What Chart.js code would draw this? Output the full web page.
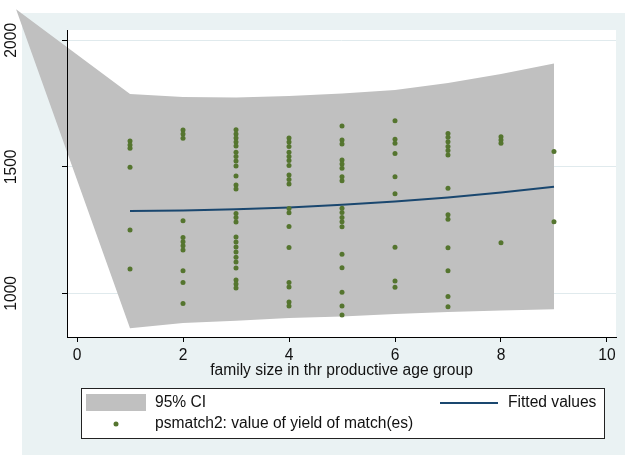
<!DOCTYPE html>
<html lang="en">
<head>
<meta charset="UTF-8">
<title>Yield of matches by family size</title>
<script src="https://cdn.jsdelivr.net/npm/chart.js@4.4.1/dist/chart.umd.min.js"></script>
<style>
  html, body { margin: 0; padding: 0; background: #ffffff; }
  canvas { display: block; }
</style>
</head>
<body>
<canvas id="fitChart" width="625" height="455"></canvas>
<script>
// matched yield values, one list per family size (members of productive age)
const familySizes = [1, 2, 3, 4, 5, 6, 7, 8, 9];
const yieldBySize = [
  [1602, 1586, 1573, 1498, 1250, 1096],
  [1645, 1630, 1613, 1287, 1221, 1204, 1188, 1171, 1089, 1043, 960],
  [1646, 1630, 1614, 1598, 1582, 1558, 1541, 1523, 1503, 1464, 1428, 1412,
   1315, 1300, 1282, 1223, 1203, 1183, 1163, 1143, 1124, 1100, 1053, 1037, 1021],
  [1614, 1598, 1580, 1558, 1541, 1525, 1505, 1468, 1450, 1432, 1335, 1318,
   1264, 1181, 1043, 1025, 966, 950],
  [1661, 1606, 1590, 1527, 1511, 1494, 1461, 1445, 1336, 1319, 1300, 1283,
   1263, 1154, 1101, 1004, 950, 914],
  [1682, 1609, 1593, 1553, 1461, 1393, 1182, 1049, 1024],
  [1632, 1617, 1599, 1580, 1564, 1547, 1415, 1310, 1293, 1180, 1089, 987, 947],
  [1619, 1606, 1593, 1200],
  [1560, 1283]
];

// fitted values and 95% confidence band
const fitX = [1, 2, 3, 4, 5, 6, 7, 8, 9];
const fitY = [1325, 1327, 1332, 1339, 1350, 1363, 1379, 1398, 1421];
const ciX = [-1.15, 1, 2, 3, 4, 5, 6, 7, 8, 9];
const ciUpper = [2123, 1788, 1776, 1774, 1780, 1790, 1804, 1831, 1867, 1908];
const ciLower = [2123, 862, 883, 892, 902, 908, 918, 926, 932, 937];

const xTicks = [0, 2, 4, 6, 8, 10];
const yTicks = [1000, 1500, 2000];
const xTitle = 'family size in thr productive age group';

const ciGrey = '#c0c0c0';
const fitNavy = '#1a476f';
const dotGreen = '#55752f';
const textFont = "'Liberation Sans', Arial, sans-serif";

Chart.defaults.font.family = textFont;
Chart.defaults.font.size = 15.6;
Chart.defaults.color = '#111111';

const toPoints = (xs, ys) => xs.map((x, i) => ({x: x, y: ys[i]}));
const scatterPoints = familySizes.flatMap((size, i) =>
  yieldBySize[i].map(v => ({x: size, y: v})));

// page background, graph region and white plot region
const backdrop = {
  id: 'backdrop',
  beforeDraw(chart) {
    const {ctx, width, height, chartArea: a} = chart;
    ctx.save();
    ctx.fillStyle = '#ffffff';
    ctx.fillRect(0, 0, width, height);
    ctx.fillStyle = '#eaf2f3';
    ctx.fillRect(22, 13, width - 22, height - 13);
    ctx.fillStyle = '#ffffff';
    ctx.fillRect(a.left, a.top, a.right - a.left, a.bottom - a.top);
    ctx.restore();
  }
};

// the CI band is filled between the upper and lower points the library placed;
// it is not clipped, so its left tip runs past the plot region
const bandFill = {
  id: 'bandFill',
  beforeDatasetsDraw(chart) {
    const up = chart.getDatasetMeta(2).data;
    const lo = chart.getDatasetMeta(3).data;
    const ctx = chart.ctx;
    ctx.save();
    ctx.fillStyle = chart.data.datasets[2].backgroundColor;
    ctx.beginPath();
    up.forEach((p, i) => (i ? ctx.lineTo(p.x, p.y) : ctx.moveTo(p.x, p.y)));
    for (let i = lo.length - 1; i >= 0; i--) ctx.lineTo(lo[i].x, lo[i].y);
    ctx.closePath();
    ctx.fill();
    ctx.restore();
  }
};

// boxed two-column key under the axis title
const keyBox = {
  id: 'keyBox',
  afterDraw(chart) {
    const {ctx} = chart;
    const ds = chart.data.datasets;
    ctx.save();
    ctx.fillStyle = '#ffffff';
    ctx.fillRect(81, 388, 523, 50);
    ctx.strokeStyle = '#222222';
    ctx.lineWidth = 1;
    ctx.strokeRect(81.5, 388.5, 523, 50);

    ctx.fillStyle = ds[2].backgroundColor;
    ctx.fillRect(86, 394, 60, 17);

    ctx.fillStyle = ds[0].pointBackgroundColor;
    ctx.beginPath();
    ctx.arc(116, 424, 2.5, 0, Math.PI * 2);
    ctx.fill();

    ctx.strokeStyle = ds[1].borderColor;
    ctx.lineWidth = 2;
    ctx.beginPath();
    ctx.moveTo(440, 403);
    ctx.lineTo(498, 403);
    ctx.stroke();

    ctx.fillStyle = '#111111';
    ctx.font = '15.6px ' + textFont;
    ctx.textBaseline = 'middle';
    ctx.textAlign = 'left';
    ctx.fillText(ds[2].label, 155, 403);
    ctx.fillText(ds[0].label, 155, 424);
    ctx.fillText(ds[1].label, 508, 403);
    ctx.restore();
  }
};

const yRange = {min: 827.3, max: 2040.7};

new Chart(document.getElementById('fitChart'), {
  type: 'line',
  data: {
    datasets: [
      {
        type: 'scatter',
        label: 'psmatch2: value of yield of match(es)',
        data: scatterPoints,
        pointRadius: 2.5,
        pointBackgroundColor: dotGreen,
        pointBorderColor: dotGreen,
        pointBorderWidth: 0,
        borderColor: dotGreen
      },
      {
        label: 'Fitted values',
        data: toPoints(fitX, fitY),
        borderColor: fitNavy,
        borderWidth: 2,
        pointRadius: 0,
        fill: false,
        tension: 0
      },
      {
        label: '95% CI',
        data: toPoints(ciX, ciUpper),
        backgroundColor: ciGrey,
        showLine: false,
        pointRadius: 0,
        fill: false,
        clip: false
      },
      {
        label: '95% CI lower',
        data: toPoints(ciX, ciLower),
        backgroundColor: ciGrey,
        showLine: false,
        pointRadius: 0,
        fill: false,
        clip: false
      }
    ]
  },
  options: {
    responsive: false,
    animation: false,
    devicePixelRatio: 1,
    events: [],
    layout: {padding: {top: 30, right: 9, bottom: 75, left: 0}},
    plugins: {
      legend: {display: false},
      tooltip: {enabled: false}
    },
    scales: {
      x: {
        type: 'linear',
        min: -0.189,
        max: 10.17,
        afterBuildTicks: s => { s.ticks = xTicks.map(v => ({value: v})); },
        afterFit: s => { s.height = 43; },
        grid: {drawOnChartArea: false, tickLength: 5, tickColor: '#000000'},
        border: {color: '#000000', width: 1},
        ticks: {padding: 4, callback: v => String(v)},
        title: {display: true, text: xTitle, padding: {top: 0, bottom: 0}}
      },
      y: {
        type: 'linear',
        position: 'left',
        min: yRange.min,
        max: yRange.max,
        afterBuildTicks: s => { s.ticks = yTicks.map(v => ({value: v})); },
        afterFit: s => { s.width = 67; s.paddingTop = 0; s.paddingBottom = 0; },
        grid: {drawOnChartArea: false, tickLength: 5, tickColor: '#000000', z: 1},
        border: {color: '#000000', width: 1, z: 1},
        ticks: {
          minRotation: 90,
          maxRotation: 90,
          crossAlign: 'center',
          padding: 33,
          z: 1,
          callback: v => String(v)
        }
      },
      yGrid: {
        type: 'linear',
        position: 'left',
        min: yRange.min,
        max: yRange.max,
        afterBuildTicks: s => { s.ticks = yTicks.map(v => ({value: v})); },
        afterFit: s => { s.width = 0; s.paddingTop = 0; s.paddingBottom = 0; },
        grid: {color: '#e0eaed', lineWidth: 1, drawTicks: false},
        border: {display: false},
        ticks: {display: false}
      }
    }
  },
  plugins: [backdrop, bandFill, keyBox]
});
</script>
</body>
</html>
